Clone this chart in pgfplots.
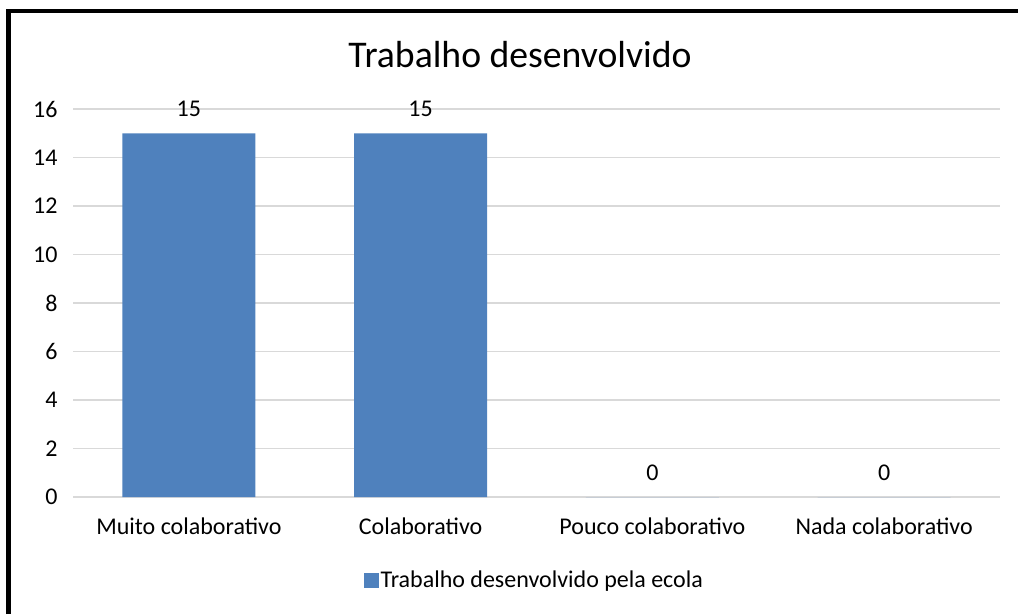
\documentclass[border=0pt]{standalone}
\usepackage{pgfplots}
\pgfplotsset{compat=1.18}
\usepackage{fontspec}
\setmainfont{Carlito}
\definecolor{barcol}{HTML}{4F81BD}
\definecolor{gridcol}{HTML}{D9D9D9}
\begin{document}
\begin{tikzpicture}[x=1pt,y=1pt]
\path[use as bounding box] (0,0) rectangle (1018,614);
\begin{axis}[
  at={(73pt,117pt)}, anchor=south west,
  scale only axis, width=927pt, height=388pt,
  xmin=-0.5, xmax=3.5, ymin=0, ymax=16,
  ybar, bar width=133pt,
  axis line style={draw=none},
  ytick={0,2,...,16},
  ymajorgrids, grid style={gridcol, line width=1.3pt},
  major tick length=0pt,
  xtick={0,1,2,3},
  xticklabels={Muito colaborativo, Colaborativo, Pouco colaborativo, Nada colaborativo},
  tick label style={font=\fontsize{24}{28}\selectfont, text=black},
  /pgf/number format/assume math mode=true,
  yticklabel style={xshift=-12pt},
  xticklabel style={yshift=-17pt},
  nodes near coords,
  nodes near coords style={font=\fontsize{24}{28}\selectfont, text=black, yshift=13pt},
  legend style={at={(0.4976,-0.214)}, anchor=center, draw=none, fill=none,
    font=\fontsize{24}{28}\selectfont, /tikz/every even column/.append style={column sep=0pt}},
  legend image code/.code={\fill[barcol] (0pt,-7.5pt) rectangle (15pt,7.5pt);},
]
\addplot[fill=barcol, draw=none] coordinates {(0,15) (1,15) (2,0) (3,0)};
\addlegendentry{Trabalho desenvolvido pela ecola}
\end{axis}
\node[font=\fontsize{37.7}{45}\selectfont] at (520,559) {Trabalho desenvolvido};
\draw[line width=5pt] (8.5,0) -- (8.5,602.5);
\draw[line width=4pt] (6,602.5) -- (1018,602.5);
\end{tikzpicture}
\end{document}
